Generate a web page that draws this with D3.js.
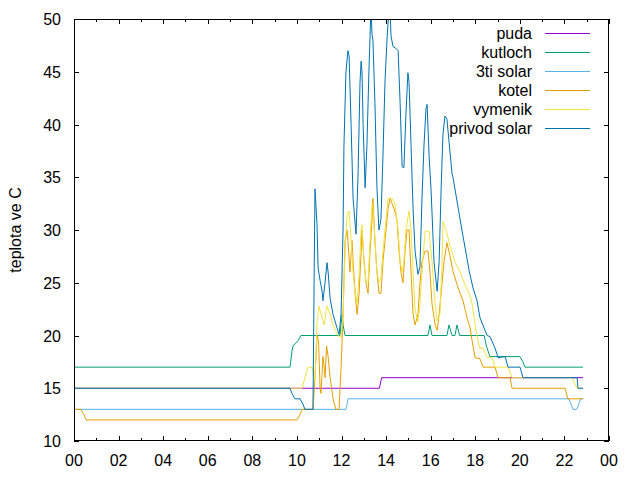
<!DOCTYPE html>
<html>
<head>
<meta charset="utf-8">
<script src="https://cdn.jsdelivr.net/npm/d3@7/dist/d3.min.js"></script>
<style>
  body { margin: 0; background: #fff; }
  text { font-family: "Liberation Sans", Arial, sans-serif; font-size: 16px; fill: #000; }
</style>
</head>
<body>
<div id="viz"></div>
<script>
// hodiny od pulnoci, teplota ve C
const puda = [[0,15],[13.70,15],[13.80,16],[22.84,16]];

const kutloch = [[0,17],[9.69,17],[9.78,18.5],[9.82,19],[10.05,19.5],[10.18,20],[11.93,20],[11.98,21],
  [12.03,22],[12.07,21],[12.16,20],[15.88,20],[15.97,21],[16.06,20],[16.73,20],[16.82,21],[16.96,20],
  [17.09,20],[17.18,21],[17.30,20],[18.40,20],[18.50,19],[18.66,18],[20.00,18],[20.14,17.5],[20.23,17],[22.84,17]];

const solar3ti = [[0,13],[12.20,13],[12.30,14],[22.20,14],[22.30,13.5],[22.38,13],[22.55,13],[22.65,13.5],
  [22.72,14],[22.84,14]];

const kotel = [[0,13],[0.30,13],[0.45,12.5],[0.54,12],[10.0,12],[10.14,12.5],[10.23,13],[10.72,13],[10.81,16],
  [10.90,20],[10.97,19.5],[11.04,15],[11.08,14.5],[11.17,18],[11.22,17],[11.26,16],[11.33,19],[11.40,18],
  [11.49,16],[11.62,14],[11.75,13],[11.89,13],[11.98,17],[12.07,22],[12.16,29],[12.25,30],[12.29,29],
  [12.38,26],[12.47,29],[12.52,27],[12.61,24],[12.70,22],[12.79,24],[12.88,28],[12.92,30],[13.01,27],
  [13.10,25],[13.19,24],[13.28,28],[13.37,31],[13.41,33],[13.50,29],[13.59,26],[13.68,24],[13.77,24],
  [13.86,27],[13.95,29],[14.09,32],[14.18,33],[14.36,32],[14.49,31],[14.58,28],[14.67,26],[14.76,25],
  [14.85,28],[14.94,30],[15.03,30],[15.12,26],[15.21,22],[15.30,21],[15.43,22],[15.52,25],[15.61,27],
  [15.75,28],[15.88,28],[15.97,26],[16.06,23],[16.20,21],[16.29,20.5],[16.38,22],[16.51,25],[16.60,27],
  [16.73,28.8],[16.87,27.5],[17.00,26.1],[17.23,24.5],[17.45,23.3],[17.63,21.7],[17.77,20.7],[17.86,19.5],
  [17.99,17.9],[18.21,17.8],[18.35,17],[18.89,17],[19.02,16],[19.56,16],[19.65,15],[22.03,15],[22.16,14],[22.84,14]];

const vymenik = [[0,15],[10.23,15],[10.36,16],[10.50,17],[10.68,17],[10.81,15.7],[10.90,21],[10.99,22.8],
  [11.08,22],[11.22,21],[11.35,22.8],[11.49,22],[11.62,21],[11.84,20],[11.98,19.8],[12.07,22],[12.16,28],
  [12.25,31.5],[12.34,31.8],[12.43,29],[12.52,26],[12.61,24],[12.70,23],[12.79,26],[12.88,30],[12.92,30.5],
  [13.01,27],[13.10,25],[13.19,25],[13.28,29],[13.37,32.5],[13.41,32],[13.50,29],[13.59,26],[13.68,25],
  [13.77,25.5],[13.86,28],[13.95,30],[14.09,33],[14.27,33],[14.40,32.5],[14.54,30],[14.63,27],[14.72,26],
  [14.80,27],[14.89,30],[15.03,31.8],[15.12,30],[15.21,26],[15.30,22.5],[15.43,21.3],[15.52,23],[15.61,26],
  [15.75,29.9],[15.93,29.9],[16.06,27],[16.20,23],[16.29,21.4],[16.42,22],[16.51,27],[16.55,30.8],[16.69,30],
  [16.87,28.5],[17.09,27],[17.32,26],[17.54,24.8],[17.77,23.8],[17.86,23],[17.99,21],[18.12,19.5],[18.21,18.8],
  [18.35,18.8],[18.53,17.9],[18.75,17.9],[18.89,17],[19.47,17],[19.65,16],[22.34,16],[22.57,15],[22.84,15]];

const privodSolar = [[0,15],[9.69,15],[9.78,14.5],[9.91,14],[10.14,14],[10.27,13.5],[10.36,13],[10.72,13],
  [10.81,33.9],[10.90,30.6],[10.95,26.4],[11.04,25.2],[11.13,24.2],[11.17,23.3],[11.26,25],[11.35,26.9],
  [11.40,26],[11.49,23.5],[11.62,22],[11.80,20.7],[11.89,20.1],[11.98,22],[12.07,30],[12.11,38],[12.20,45],
  [12.29,47],[12.34,46.5],[12.43,40],[12.52,33],[12.65,29.6],[12.74,35],[12.83,44],[12.88,46],[12.92,45],
  [12.97,40],[13.06,34],[13.14,38],[13.23,45],[13.32,51],[13.37,48.5],[13.41,48],[13.50,42],[13.59,34],
  [13.68,30],[13.77,31],[13.86,37],[13.95,44],[14.04,48],[14.13,51],[14.18,51],[14.22,48.4],[14.31,47.4],
  [14.45,47.2],[14.54,47],[14.63,42],[14.72,36],[14.80,35.9],[14.89,41],[14.98,44.9],[15.03,44],[15.12,38],
  [15.21,32],[15.30,28],[15.43,25.8],[15.52,26.5],[15.61,33],[15.70,38],[15.79,41.5],[15.84,41.9],[15.93,37],
  [16.02,33.7],[16.15,27],[16.29,24.2],[16.38,27],[16.47,34],[16.55,39],[16.64,40.8],[16.73,40.5],[16.96,35.3],
  [17.00,35],[17.41,29.9],[17.73,26.1],[17.90,24.5],[18.08,23.3],[18.21,21.7],[18.53,20],[18.66,19.9],
  [18.89,18.8],[19.02,17.9],[19.34,18],[19.47,17],[20.01,17],[20.14,16],[22.57,16],[22.61,15],[22.84,15]];

const seriesNames = ["puda", "kutloch", "3ti solar", "kotel", "vymenik", "privod solar"];
const seriesData = [puda, kutloch, solar3ti, kotel, vymenik, privodSolar];
const seriesColors = ["#9400d3", "#009e73", "#56b4e9", "#e69f00", "#f0e442", "#0072b2"];

const yTicks = [10, 15, 20, 25, 30, 35, 40, 45, 50];
const xTicks = [0, 2, 4, 6, 8, 10, 12, 14, 16, 18, 20, 22, 24];
const xMinorTicks = d3.range(1, 24, 2);

const width = 640, height = 480,
      plot = {left: 74, right: 609, top: 19, bottom: 441};

const x = d3.scaleLinear().domain([0, 24]).range([plot.left, plot.right]);
const y = d3.scaleLinear().domain([10, 50]).range([plot.bottom, plot.top]);

const svg = d3.select('#viz').append('svg')
  .attr('width', width)
  .attr('height', height);

svg.append('clipPath').attr('id', 'clip')
  .append('rect')
    .attr('x', plot.left).attr('y', plot.top)
    .attr('width', plot.right - plot.left)
    .attr('height', plot.bottom - plot.top);

// ticks (dovnitr, i na protejsich stranach)
const ticks = svg.append('g').attr('stroke', '#000').attr('stroke-width', 1);
yTicks.forEach(v => {
  const yy = Math.round(y(v)) + 0.5;
  ticks.append('line').attr('x1', plot.left).attr('x2', plot.left + 5).attr('y1', yy).attr('y2', yy);
  ticks.append('line').attr('x1', plot.right - 5).attr('x2', plot.right).attr('y1', yy).attr('y2', yy);
});
xTicks.forEach(v => {
  const xx = Math.round(x(v)) + 0.5;
  ticks.append('line').attr('x1', xx).attr('x2', xx).attr('y1', plot.bottom).attr('y2', plot.bottom - 5);
  ticks.append('line').attr('x1', xx).attr('x2', xx).attr('y1', plot.top).attr('y2', plot.top + 5);
});
xMinorTicks.forEach(v => {
  const xx = Math.round(x(v)) + 0.5;
  ticks.append('line').attr('x1', xx).attr('x2', xx).attr('y1', plot.bottom).attr('y2', plot.bottom - 3);
  ticks.append('line').attr('x1', xx).attr('x2', xx).attr('y1', plot.top).attr('y2', plot.top + 3);
});

// labels
svg.append('g').selectAll('text')
  .data(yTicks)
  .enter().append('text')
    .attr('x', 61)
    .attr('y', d => y(d) + 6)
    .attr('text-anchor', 'end')
    .text(d => d);

svg.append('g').selectAll('text')
  .data(xTicks)
  .enter().append('text')
    .attr('x', d => x(d))
    .attr('y', 466)
    .attr('text-anchor', 'middle')
    .text(d => d3.format('02d')(d % 24));

svg.append('text')
  .attr('transform', 'translate(21,' + ((plot.top + plot.bottom) / 2) + ') rotate(-90)')
  .attr('text-anchor', 'middle')
  .text('teplota ve C');

// lines
const line = d3.line().x(d => x(d[0])).y(d => y(d[1]));
svg.append('g').attr('clip-path', 'url(#clip)')
  .selectAll('path')
  .data(seriesData)
  .enter().append('path')
    .attr('d', line)
    .attr('fill', 'none')
    .attr('stroke', (d, i) => seriesColors[i])
    .attr('stroke-width', 1);

// border
svg.append('rect')
  .attr('x', plot.left + 0.5).attr('y', plot.top + 0.5)
  .attr('width', plot.right - plot.left - 1)
  .attr('height', plot.bottom - plot.top - 1)
  .attr('fill', 'none')
  .attr('stroke', '#000');

// key
const key = svg.append('g');
seriesNames.forEach((name, i) => {
  const ky = 33 + i * 19;
  key.append('text')
    .attr('x', 532).attr('y', ky + 6)
    .attr('text-anchor', 'end')
    .text(name);
  key.append('line')
    .attr('x1', 545).attr('x2', 590)
    .attr('y1', ky + 0.5).attr('y2', ky + 0.5)
    .attr('stroke', seriesColors[i]);
});
</script>
</body>
</html>
